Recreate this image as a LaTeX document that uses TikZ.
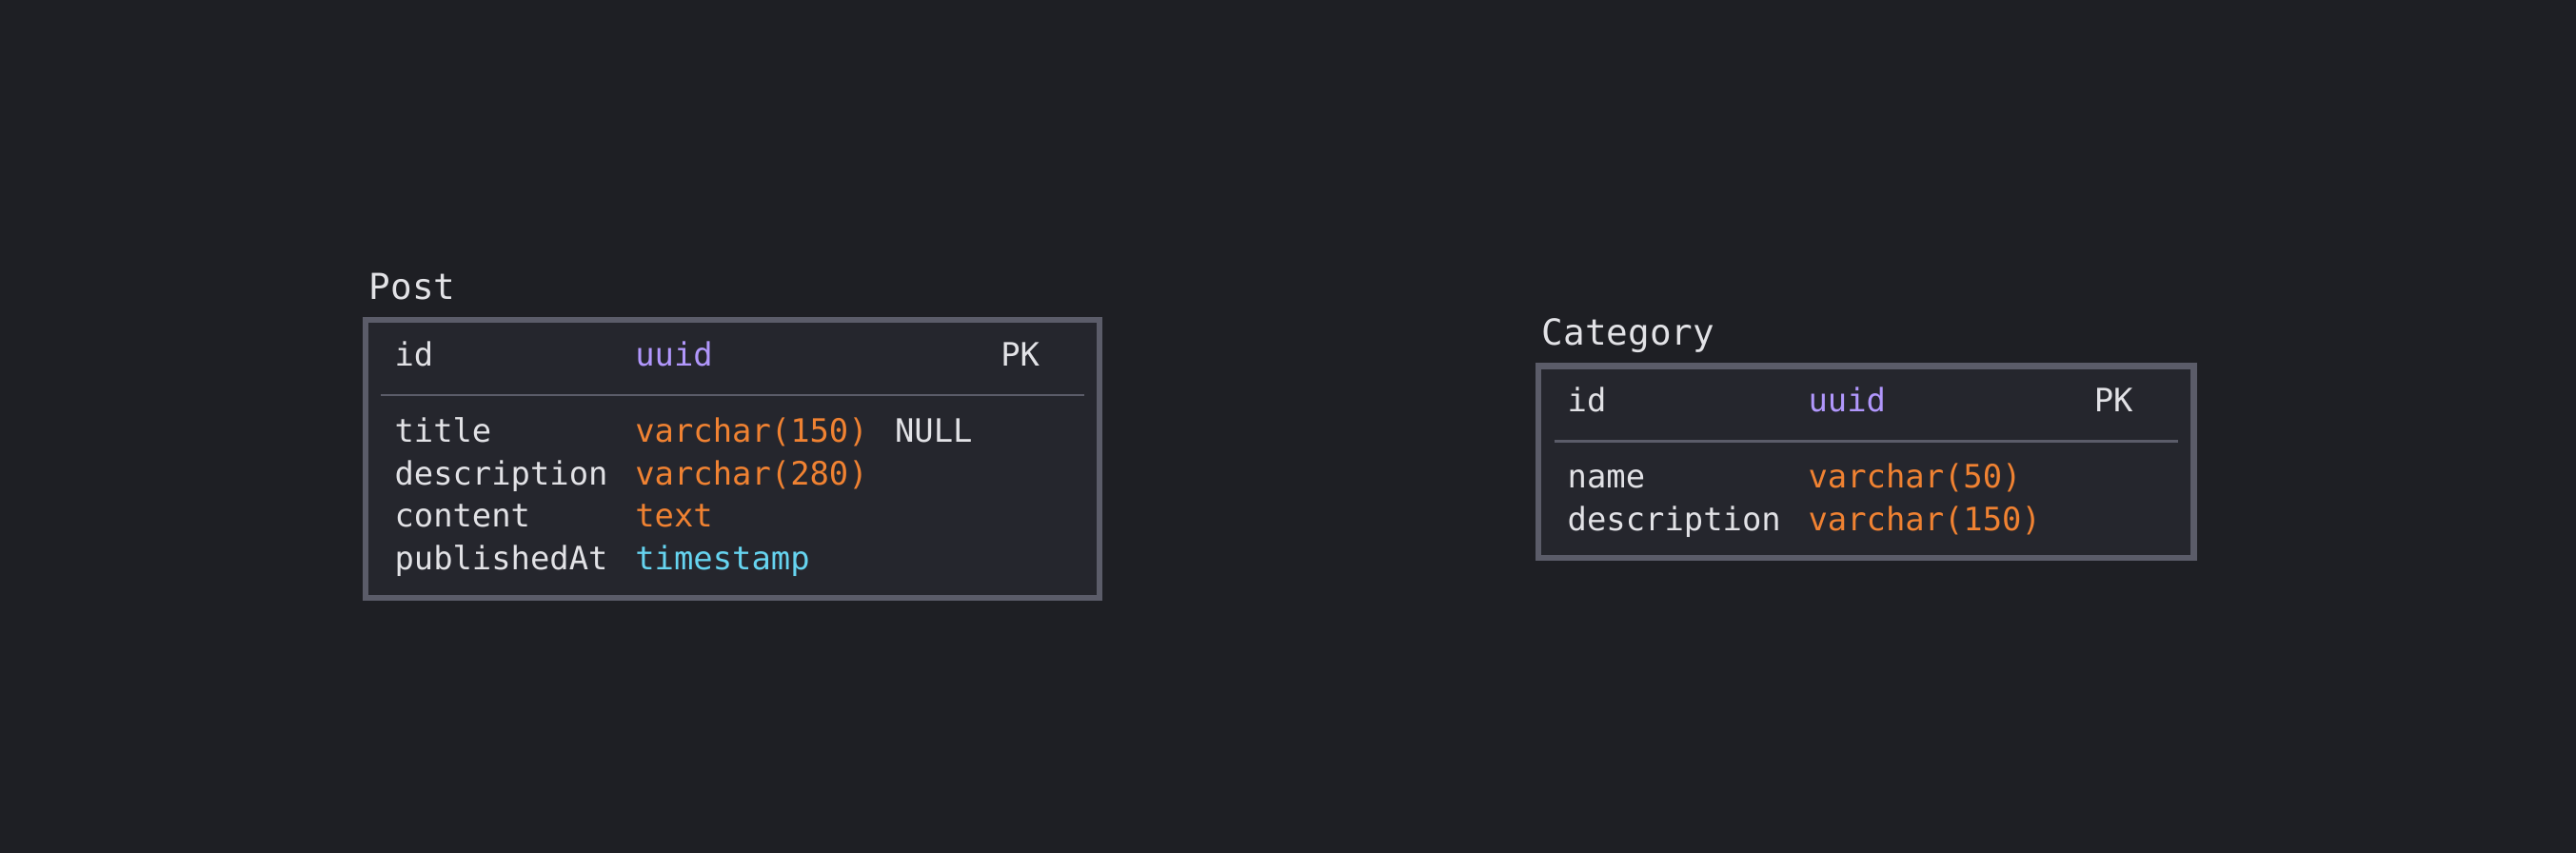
\documentclass[tikz,border=0pt]{standalone}
\usepackage{fontspec}
\setmonofont{DejaVu Sans Mono}
\usetikzlibrary{calc,positioning}
\definecolor{bg}{HTML}{1E1F24}
\definecolor{boxfill}{HTML}{25262D}
\definecolor{boxline}{HTML}{5B5C69}
\definecolor{txt}{HTML}{E2E2E6}
\definecolor{typeuuid}{HTML}{B197FC}
\definecolor{typestr}{HTML}{F08232}
\definecolor{typetime}{HTML}{66D4F0}
\begin{document}
\begin{tikzpicture}[x=1pt,y=-1pt,
	field/.style={anchor=base west, inner sep=0pt, text=txt, font=\ttfamily\fontsize{19.6}{23}\selectfont},
	title/.style={field, font=\ttfamily\fontsize{21.8}{26}\selectfont},
	table/.style={draw=boxline, fill=boxfill, line width=3.6pt},
	sep/.style={draw=boxline, line width=1.6pt}]
			\fill[bg] (0,0) rectangle (1568,519);
			\useasboundingbox (0,0) rectangle (1568,519);
			% Post
			\coordinate (P1) at (222.7,194.8);
			\coordinate (P2) at (669.3,363.8);
			\coordinate (PS1) at (232,240.5);
			\coordinate (PS2) at (660,240.5);
			\draw[table] (P1) rectangle (P2);
			\draw[sep] (PS1)--(PS2);
			\node[title] (post) at (224.5,182) {Post};
			\node[field] (postid) at (240,223) {id};
			\node[field, text=typeuuid] (postidtype) at (386.5,223) {uuid};
			\node[field] (postpk) at (609,223) {PK};
			\node[field] (posttitle) at (240,269) {title};
			\node[field, text=typestr] (posttitletype) at (386.5,269) {varchar(150)};
			\node[field] (postnull) at (544.5,269) {NULL};
			\node[field] (postdesc) at (240,295) {description};
			\node[field, text=typestr] (postdesctype) at (386.5,295) {varchar(280)};
			\node[field] (postcontent) at (240,321) {content};
			\node[field, text=typestr] (postcontenttype) at (386.5,321) {text};
			\node[field] (postpub) at (240,347) {publishedAt};
			\node[field, text=typetime] (postpubtype) at (386.5,347) {timestamp};
			% Category
			\coordinate (C1) at (936.5,222.8);
			\coordinate (C2) at (1335.3,339.6);
			\coordinate (CS1) at (946,268.5);
			\coordinate (CS2) at (1326,268.5);
			\draw[table] (C1) rectangle (C2);
			\draw[sep] (CS1)--(CS2);
			\node[title] (cat) at (938.5,210) {Category};
			\node[field] (catid) at (954,250.5) {id};
			\node[field, text=typeuuid] (catidtype) at (1100.5,250.5) {uuid};
			\node[field] (catpk) at (1274.5,250.5) {PK};
			\node[field] (catname) at (954,297) {name};
			\node[field, text=typestr] (catnametype) at (1100.5,297) {varchar(50)};
			\node[field] (catdesc) at (954,323) {description};
			\node[field, text=typestr] (catdesctype) at (1100.5,323) {varchar(150)};
	\end{tikzpicture}
\end{document}
